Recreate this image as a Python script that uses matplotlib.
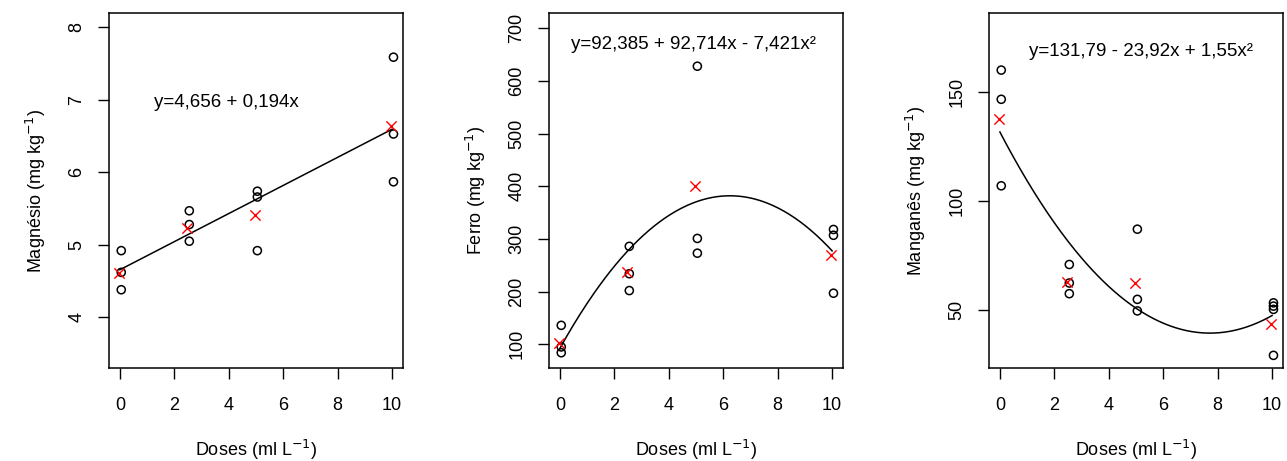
import numpy as np
import matplotlib
matplotlib.use("Agg")
import matplotlib.pyplot as plt

plt.rcParams['font.family'] = ['Liberation Sans', 'DejaVu Sans']

doses = [0, 2.5, 5, 10]

# Magnésio observations (3 per dose) and means
mg_obs = [[4.92, 4.62, 4.38], [5.47, 5.28, 5.05], [5.74, 5.66, 4.92], [7.59, 6.53, 5.87]]
mg_mean = [4.61, 5.23, 5.41, 6.64]
mg_coef = [4.656, 0.194, 0.0]

# Ferro
fe_obs = [[136, 95, 84], [286, 234, 202], [628, 301, 273], [318, 307, 197]]
fe_mean = [103, 237, 400, 269]
fe_coef = [92.385, 92.714, -7.421]

# Manganês
mn_obs = [[160.2, 146.8, 107.1], [71.0, 62.5, 57.6], [87.2, 55.0, 49.7], [53.4, 51.9, 50.4, 29.3]]
mn_mean = [137.7, 63.1, 62.7, 43.6]
mn_coef = [131.79, -23.92, 1.55]

panels = [
    dict(obs=mg_obs, mean=mg_mean, coef=mg_coef, ylabel='Magnésio (mg kg$^{-1}$)',
         eq='y=4,656 + 0,194x', eqpos=(3.93, 6.97), ylim=(3.3, 8.2), yticks=[4, 5, 6, 7, 8],
         left=109),
    dict(obs=fe_obs, mean=fe_mean, coef=fe_coef, ylabel='Ferro (mg kg$^{-1}$)',
         eq='y=92,385 + 92,714x - 7,421x²', eqpos=(4.89, 670), ylim=(55, 729),
         yticks=[100, 200, 300, 400, 500, 600, 700], left=549),
    dict(obs=mn_obs, mean=mn_mean, coef=mn_coef, ylabel='Manganês (mg kg$^{-1}$)',
         eq='y=131,79 - 23,92x + 1,55x²', eqpos=(5.2, 168.6), ylim=(23.5, 186.4),
         yticks=[50, 100, 150], left=989),
]

W, H = 1287, 461
fig = plt.figure(figsize=(W / 100, H / 100), dpi=100)

FS = 13
xticks = [0, 2, 4, 6, 8, 10]
for p in panels:
    ax = fig.add_axes([p['left'] / W, 1 - 368 / H, 294 / W, (368 - 13) / H])
    for d, vals in zip(doses, p['obs']):
        ax.scatter([d + 0.05] * len(vals), vals, s=34, facecolors='none',
                   edgecolors='black', linewidths=1.1, zorder=3)
    ax.scatter([d - 0.05 for d in doses], p['mean'], marker='x', color='red',
               s=55, linewidths=1.0, zorder=4)
    xs = np.linspace(0, 10, 200)
    c = p['coef']
    ax.plot(xs, c[0] + c[1] * xs + c[2] * xs ** 2, color='black', lw=1.1, zorder=2)
    ax.text(p['eqpos'][0], p['eqpos'][1], p['eq'], ha='center', va='center', fontsize=FS + 0.5)
    ax.set_xlim(-0.4, 10.4)
    ax.set_ylim(*p['ylim'])
    ax.set_xticks(xticks)
    ax.set_yticks(p['yticks'])
    ax.tick_params(axis='x', labelsize=FS, length=8, width=1.0, pad=13)
    ax.tick_params(axis='y', labelsize=FS, length=8, width=1.0, pad=9)
    for lab in ax.get_yticklabels():
        lab.set_rotation(90)
        lab.set_va('center')
    ax.set_xlabel('Doses (ml L$^{-1}$)', fontsize=FS, labelpad=17)
    ax.set_ylabel(p['ylabel'], fontsize=FS, labelpad=15)
    for s in ax.spines.values():
        s.set_linewidth(1.1)

fig.savefig('out.png', dpi=100)
